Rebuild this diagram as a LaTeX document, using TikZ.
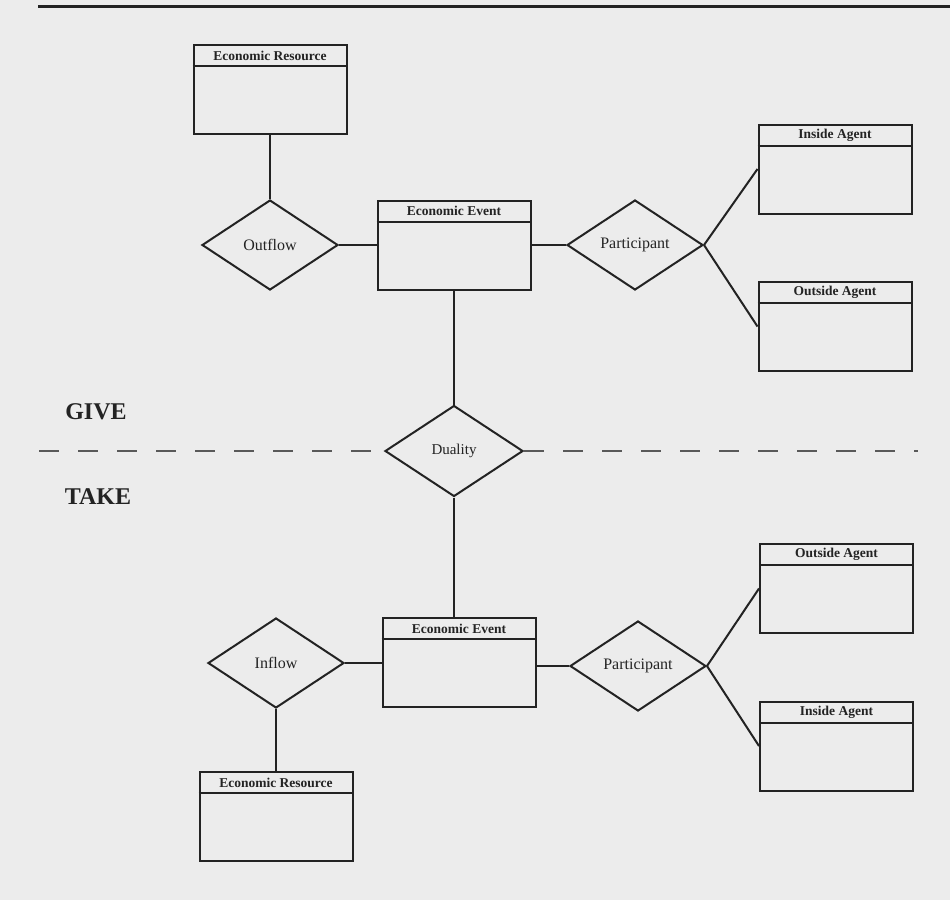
\documentclass[tikz,border=0pt]{standalone}
\usepackage{fontspec}
\setmainfont{Liberation Serif}
\usetikzlibrary{shapes.geometric}
\definecolor{paper}{RGB}{236,236,236}
\definecolor{ink}{RGB}{35,35,35}
\newcommand{\entity}[3]{%
	\node[entity] (#1) at #2 {};
	\draw[ink,line width=2pt] ([yshift=-22pt]#1.north west)--([yshift=-22pt]#1.north east);
	\node[etitle] at ([yshift=-11.5pt]#1.north) {#3};
}
\begin{document}
\begin{tikzpicture}[x=1pt,y=-1pt,
	entity/.style={draw=ink,line width=2pt,minimum width=153pt,minimum height=89pt,inner sep=0pt},
	etitle/.style={font=\fontsize{13.5}{15}\selectfont\bfseries,text=ink,inner sep=0pt},
	relation/.style={diamond,draw=ink,line width=2pt,minimum width=136pt,minimum height=90pt,inner sep=0pt,
		font=\fontsize{16}{18}\selectfont,text=ink},
	link/.style={ink,line width=2pt}]
	\fill[paper] (0,0) rectangle (950,900);
	\useasboundingbox (0,0) rectangle (950,900);
	\draw[ink,line width=3pt] (38,6)--(950,6);
	% give side
	\entity{restop}{(270,89.5)}{Economic Resource}
	\entity{evtop}{(454,245)}{Economic Event}
	\entity{instop}{(835,169)}{Inside Agent}
	\entity{outtop}{(835,326.5)}{Outside Agent}
	\node[relation] (outflow) at (270,245) {Outflow};
	\node[relation] (parttop) at (635,245) {Participant};
	% duality
	\node[relation,minimum width=138pt,minimum height=91pt,font=\fontsize{15}{17}\selectfont] (duality) at (454,451) {Duality};
	\coordinate (dl) at (39,451);
	\coordinate (dr) at (918,451);
	\draw[gray!70!black,line width=1.3pt,dash pattern=on 20pt off 19pt] (dl)--(duality.west);
	\draw[gray!70!black,line width=1.3pt,dash pattern=on 20pt off 19pt] (duality.east)--(dr);
	\node[font=\fontsize{24}{26}\selectfont\bfseries,text=ink] (give) at (96,412) {GIVE};
	\node[font=\fontsize{24}{26}\selectfont\bfseries,text=ink] (take) at (98,497) {TAKE};
	% take side
	\entity{evbot}{(459,662.5)}{Economic Event}
	\entity{resbot}{(276,816.5)}{Economic Resource}
	\entity{outbot}{(836.5,588.5)}{Outside Agent}
	\entity{insbot}{(836.5,746)}{Inside Agent}
	\node[relation] (inflow) at (276,663) {Inflow};
	\node[relation] (partbot) at (638,666) {Participant};
	% connectors
	\draw[link] (restop.south)--(outflow.north);
	\draw[link] (outflow.east)--(evtop.west);
	\draw[link] (evtop.east)--(parttop.west);
	\draw[link] (parttop.east)--(instop.west);
	\draw[link] (parttop.east)--(outtop.west);
	\draw[link] (evtop.south)--(duality.north);
	\draw[link] (duality.south)--(duality.south|-evbot.north);
	\draw[link] (inflow.east)--(inflow.east-|evbot.west);
	\draw[link] (inflow.south)--(resbot.north);
	\draw[link] (partbot.west-|evbot.east)--(partbot.west);
	\draw[link] (partbot.east)--(outbot.west);
	\draw[link] (partbot.east)--(insbot.west);
\end{tikzpicture}
\end{document}
